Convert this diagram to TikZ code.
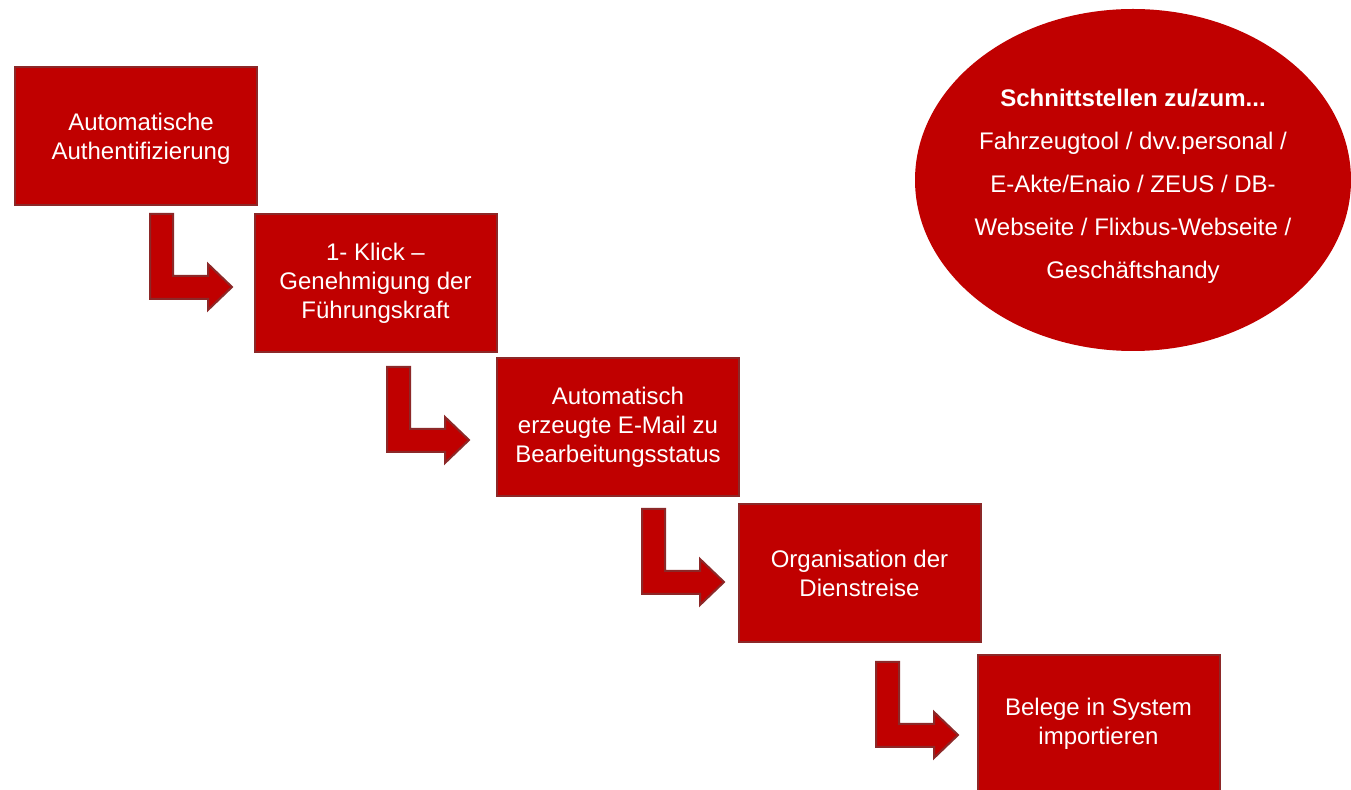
\documentclass[tikz,border=0pt]{standalone}
\usepackage{fontspec}
\setmainfont{Liberation Sans}
\usetikzlibrary{shapes.geometric}
\definecolor{boxred}{HTML}{C00000}
\definecolor{edgered}{RGB}{140,40,40}
\tikzset{
  stepbox/.style={rectangle, fill=boxred, draw=edgered, line width=1pt,
    minimum width=121pt, minimum height=69pt, inner sep=0pt, align=center,
    text=white, font=\fontsize{12}{14.5}\selectfont},
  steptext/.style={align=center, text=white, inner sep=0pt,
    font=\fontsize{12}{14.5}\selectfont},
  bigoval/.style={ellipse, fill=boxred, draw=none, minimum width=218pt,
    minimum height=171pt, inner sep=0pt},
  ovaltext/.style={align=center, text=white, inner sep=0pt,
    font=\fontsize{12}{21.5}\selectfont},
  arrowshape/.style={fill=boxred, draw=edgered, line width=1pt, line join=miter},
  bentarrow/.pic={\path[arrowshape] (0,0) -- (23,0) -- (23,62) -- (58,62) -- (58,50)
     -- (82,73) -- (58,96) -- (58,85) -- (0,85) -- cycle;}
}
\begin{document}
\begin{tikzpicture}[x=0.5pt,y=-0.5pt]
\useasboundingbox (0,0) rectangle (1351,790);
\fill[white] (0,0) rectangle (1351,790);
\begin{scope}
\clip (0,0) rectangle (1351,790);
\node[stepbox] (b1) at (136,136) {};
\node[steptext] (t1) at (141,139) {Automatische\\Authentifizierung};
\node[stepbox] (b2) at (375.5,283.5) {1- Klick –\\Genehmigung der\\Führungskraft};
\node[stepbox] (b3) at (618,427.5) {Automatisch\\erzeugte E-Mail zu\\Bearbeitungsstatus};
\node[stepbox] (b4) at (859.5,573) {Organisation der\\Dienstreise};
\node[stepbox] (b5) at (1098.5,724) {Belege in System\\importieren};
\node[bigoval] (ov) at (1133,180) {};
\node[ovaltext] (ovt) at (1133,186) {\textbf{Schnittstellen zu/zum...}\\Fahrzeugtool / dvv.personal /\\E-Akte/Enaio / ZEUS / DB-\\Webseite / Flixbus-Webseite /\\Geschäftshandy};
\coordinate (a1) at (150,214);
\coordinate (a2) at (387,367);
\coordinate (a3) at (642,509);
\coordinate (a4) at (876,662);
\pic at (a1) {bentarrow};
\pic at (a2) {bentarrow};
\pic at (a3) {bentarrow};
\pic at (a4) {bentarrow};
\end{scope}
\end{tikzpicture}
\end{document}
